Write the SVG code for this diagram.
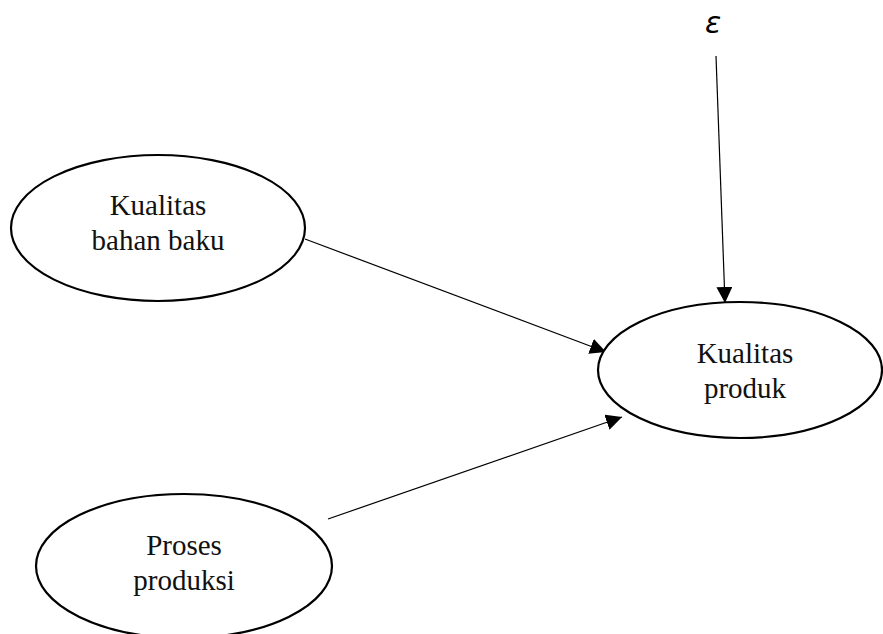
<svg xmlns="http://www.w3.org/2000/svg" width="883" height="634" viewBox="0 0 883 634">
<defs>
<marker id="arr" markerWidth="16" markerHeight="16" viewBox="0 0 16 16" refX="16" refY="8" orient="auto" markerUnits="userSpaceOnUse">
<path d="M0,0 L16,8 L0,16 Z" fill="#000"/>
</marker>
<style>
.node ellipse{fill:#fff;stroke:#000;stroke-width:2.2}
.node text{font-family:"Liberation Serif","Times New Roman",serif;font-size:29px;fill:#111;text-anchor:middle}
.conn line{stroke:#000;stroke-width:1.2;marker-end:url(#arr)}
.eps{font-family:"DejaVu Sans","Noto Sans",sans-serif;font-style:italic;font-size:30px;fill:#000;text-anchor:middle}
</style>
</defs>
<rect width="883" height="634" fill="#fff"/>
<g class="conn">
<line x1="716" y1="56" x2="725" y2="303"/>
<line x1="305" y1="239" x2="606" y2="352"/>
<line x1="328" y1="519" x2="622" y2="417"/>
</g>
<g id="n1" class="node">
<ellipse cx="158" cy="228" rx="147" ry="73"/>
<text x="158" y="215">Kualitas</text>
<text x="158" y="250">bahan baku</text>
</g>
<g id="n2" class="node">
<ellipse cx="740" cy="370" rx="142" ry="68"/>
<text x="745" y="363">Kualitas</text>
<text x="745" y="398">produk</text>
</g>
<g id="n3" class="node">
<ellipse cx="184" cy="566" rx="148" ry="72"/>
<text x="184" y="555">Proses</text>
<text x="184" y="590">produksi</text>
</g>
<text id="eps" class="eps" x="713" y="33">ε</text>
</svg>
